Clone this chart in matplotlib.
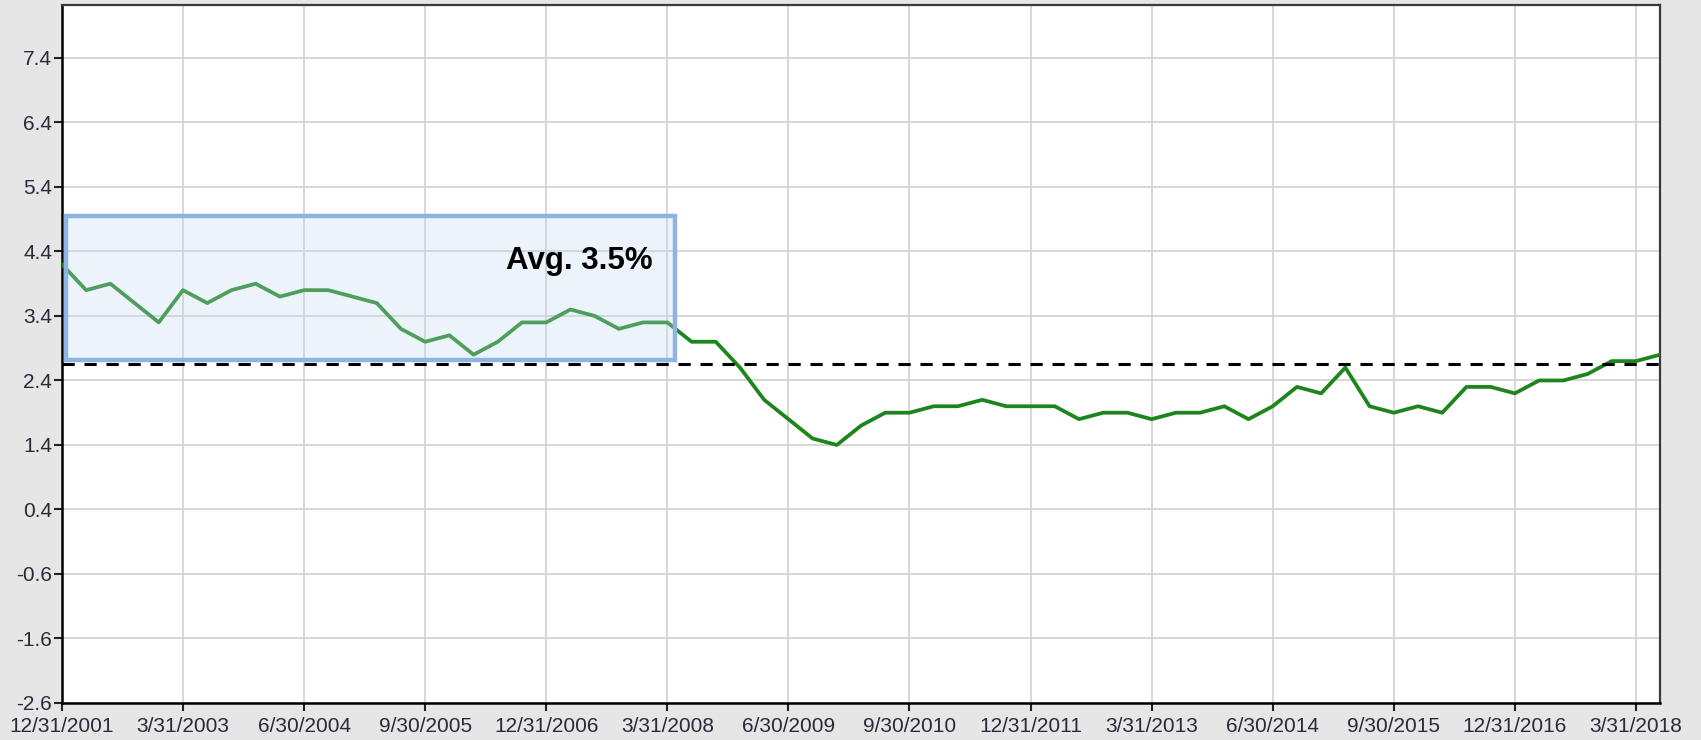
import matplotlib
matplotlib.use("Agg")
import matplotlib.pyplot as plt
from matplotlib.patches import Rectangle
import numpy as np

# quarterly values, 12/31/2001 .. 6/30/2018
values = [4.2, 3.8, 3.9, 3.6, 3.3, 3.8, 3.6, 3.8, 3.9, 3.7,
          3.8, 3.8, 3.7, 3.6, 3.2, 3.0, 3.1, 2.8, 3.0, 3.3,
          3.3, 3.5, 3.4, 3.2, 3.3, 3.3, 3.0, 3.0, 2.6, 2.1,
          1.8, 1.5, 1.4, 1.7, 1.9, 1.9, 2.0, 2.0, 2.1, 2.0,
          2.0, 2.0, 1.8, 1.9, 1.9, 1.8, 1.9, 1.9, 2.0, 1.8,
          2.0, 2.3, 2.2, 2.6, 2.0, 1.9, 2.0, 1.9, 2.3, 2.3,
          2.2, 2.4, 2.4, 2.5, 2.7, 2.7, 2.8]
xlabels = ['12/31/2001', '3/31/2003', '6/30/2004', '9/30/2005', '12/31/2006',
           '3/31/2008', '6/30/2009', '9/30/2010', '12/31/2011', '3/31/2013',
           '6/30/2014', '9/30/2015', '12/31/2016', '3/31/2018']
yticks = [-2.6, -1.6, -0.6, 0.4, 1.4, 2.4, 3.4, 4.4, 5.4, 6.4, 7.4]
long_avg = 2.65
box_start, box_end = 0, 25      # quarters covered by the highlighted window
box_low, box_high = 2.72, 4.95
box_label = "Avg. 3.5%"

plt.rcParams['font.family'] = ['Liberation Sans', 'DejaVu Sans']

x = np.arange(len(values))

fig = plt.figure(figsize=(17.01, 7.40), dpi=100, facecolor='#e6e6e6')
ax = fig.add_axes([0.0364, 0.05, 0.976 - 0.0364, 0.9932 - 0.05])
ax.set_facecolor('white')

ax.plot(x, values, color='#1c851c', lw=2.7, zorder=3)
ax.axhline(long_avg, color='black', lw=2.2, ls=(0, (4, 3.2)), zorder=4)

rect = Rectangle((box_start + 0.15, box_low), box_end - box_start + 0.15, box_high - box_low,
                 facecolor=(0.77, 0.85, 0.945, 0.3), edgecolor='#8db4e2', lw=3.2, zorder=5)
ax.add_patch(rect)
ax.text(box_end - 0.6, 4.25, box_label, fontsize=22.5, fontweight='bold',
        ha='right', va='center', color='black', zorder=6)

ax.set_xlim(0, len(values) - 1)
ax.set_ylim(-2.6, 8.22)
ax.set_xticks(x[::5][:len(xlabels)])
ax.set_xticklabels(xlabels)
ax.set_yticks(yticks)
ax.set_yticklabels([f'{v:.1f}' for v in yticks])

ax.grid(True, color='#d4d4d4', lw=1.3, zorder=0)
ax.set_axisbelow(True)
ax.tick_params(axis='both', direction='out', length=6, width=1.5, color='#222222',
               labelsize=15, labelcolor='#2a2a3a')
ax.tick_params(axis='x', pad=4)
ax.tick_params(axis='y', pad=1)

for side in ['left', 'bottom']:
    ax.spines[side].set_color('black')
    ax.spines[side].set_linewidth(1.8)
for side in ['top', 'right']:
    ax.spines[side].set_color('#3a3a3a')
    ax.spines[side].set_linewidth(1.6)

fig.savefig('out.png', dpi=100, facecolor=fig.get_facecolor())
